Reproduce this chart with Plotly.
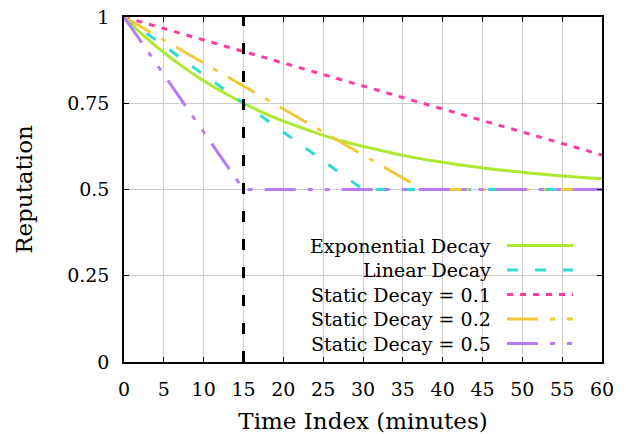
import plotly.graph_objects as go

# ---- data ----
exp_t = [0, 2.5, 5, 7.5, 10, 12.5, 15, 17.5, 20, 22.5, 25, 27.5, 30, 32.5, 35,
         37.5, 40, 42.5, 45, 47.5, 50, 52.5, 55, 57.5, 60]
exp_y = [1.0, 0.945, 0.897, 0.854, 0.815, 0.781, 0.75, 0.722, 0.698, 0.677, 0.657,
         0.640, 0.625, 0.612, 0.599, 0.588, 0.579, 0.570, 0.5625, 0.556, 0.550,
         0.544, 0.539, 0.535, 0.531]
lin_t = [0, 30, 60]
lin_y = [1.0, 0.5, 0.5]
s01_t = [0, 60]
s01_y = [1.0, 0.6]
s02_t = [0, 37.5, 60]
s02_y = [1.0, 0.5, 0.5]
s05_t = [0, 15, 60]
s05_y = [1.0, 0.5, 0.5]
marker_t = [15, 15]
marker_y = [0, 1]

x_ticks = [0, 5, 10, 15, 20, 25, 30, 35, 40, 45, 50, 55, 60]
y_ticks = [0, 0.25, 0.5, 0.75, 1]
y_tick_text = ["0", "0.25", "0.5", "0.75", "1"]

names = ["Exponential Decay", "Linear Decay", "Static Decay = 0.1",
         "Static Decay = 0.2", "Static Decay = 0.5"]
colors = ["#aee832", "#2fdcd2", "#ff3a9e", "#f2c83a", "#b57cf6"]
dashes = ["solid", "11px,17px", "6px,7px", "31px,12px,5px,12px",
          "31px,12px,5px,12px,5px,12px"]

FONT = "DejaVu Serif"
FS = 19

fig = go.Figure()
series = [(exp_t, exp_y), (lin_t, lin_y), (s01_t, s01_y), (s02_t, s02_y), (s05_t, s05_y)]
for (t, y), n, c, d in zip(series, names, colors, dashes):
    fig.add_trace(go.Scatter(x=t, y=y, mode="lines", name=n,
                             line=dict(color=c, width=3, dash=d,
                                       shape="spline" if n.startswith("Exp") else "linear"),
                             showlegend=False))
fig.add_trace(go.Scatter(x=marker_t, y=marker_y, mode="lines",
                         line=dict(color="black", width=3, dash="11px,17px"),
                         showlegend=False))

# plot area in pixels
L, R, T, B = 124, 602, 17, 362
W, H = R - L, B - T
def px(xp):
    return (xp - L) / W
def py(yp):
    return (B - yp) / H

shapes = []
# opaque key box
shapes.append(dict(type="rect", xref="paper", yref="paper",
                   x0=px(227), x1=1, y0=0, y1=py(233),
                   fillcolor="white", line=dict(width=0), layer="below"))
annotations = []
for i, (n, c, d) in enumerate(zip(names, colors, dashes)):
    yrow = 245.5 + 24.5 * i
    shapes.append(dict(type="line", xref="paper", yref="paper",
                       x0=px(507), x1=px(573), y0=py(yrow), y1=py(yrow),
                       line=dict(color=c, width=3, dash=d), layer="above"))
    annotations.append(dict(text=n, xref="paper", yref="paper", x=px(493), y=py(yrow),
                            xanchor="right", yanchor="middle", showarrow=False,
                            font=dict(family=FONT, size=FS, color="black")))

fig.update_layout(
    width=626, height=434,
    margin=dict(l=L, r=626 - R, t=T, b=434 - B, autoexpand=False),
    paper_bgcolor="white", plot_bgcolor="white",
    font=dict(family=FONT, size=FS, color="black"),
    shapes=shapes, annotations=annotations,
)
fig.update_xaxes(range=[0, 60], tickvals=x_ticks, ticks="inside", ticklen=5,
                 tickcolor="black", showline=True, linecolor="black", linewidth=1.5,
                 mirror="allticks", showgrid=True, gridcolor="#cccccc", gridwidth=1,
                 zeroline=False, ticklabelstandoff=9, automargin=False,
                 title=dict(text="Time Index (minutes)", standoff=16))
fig.update_yaxes(range=[0, 1], tickvals=y_ticks, ticktext=y_tick_text, ticks="inside",
                 ticklen=5, tickcolor="black", showline=True, linecolor="black",
                 linewidth=1.5, mirror="allticks", showgrid=True, gridcolor="#cccccc",
                 gridwidth=1, zeroline=False, ticklabelstandoff=9, automargin=False,
                 title=dict(text="Reputation", standoff=28))

fig.write_html("out.html")
